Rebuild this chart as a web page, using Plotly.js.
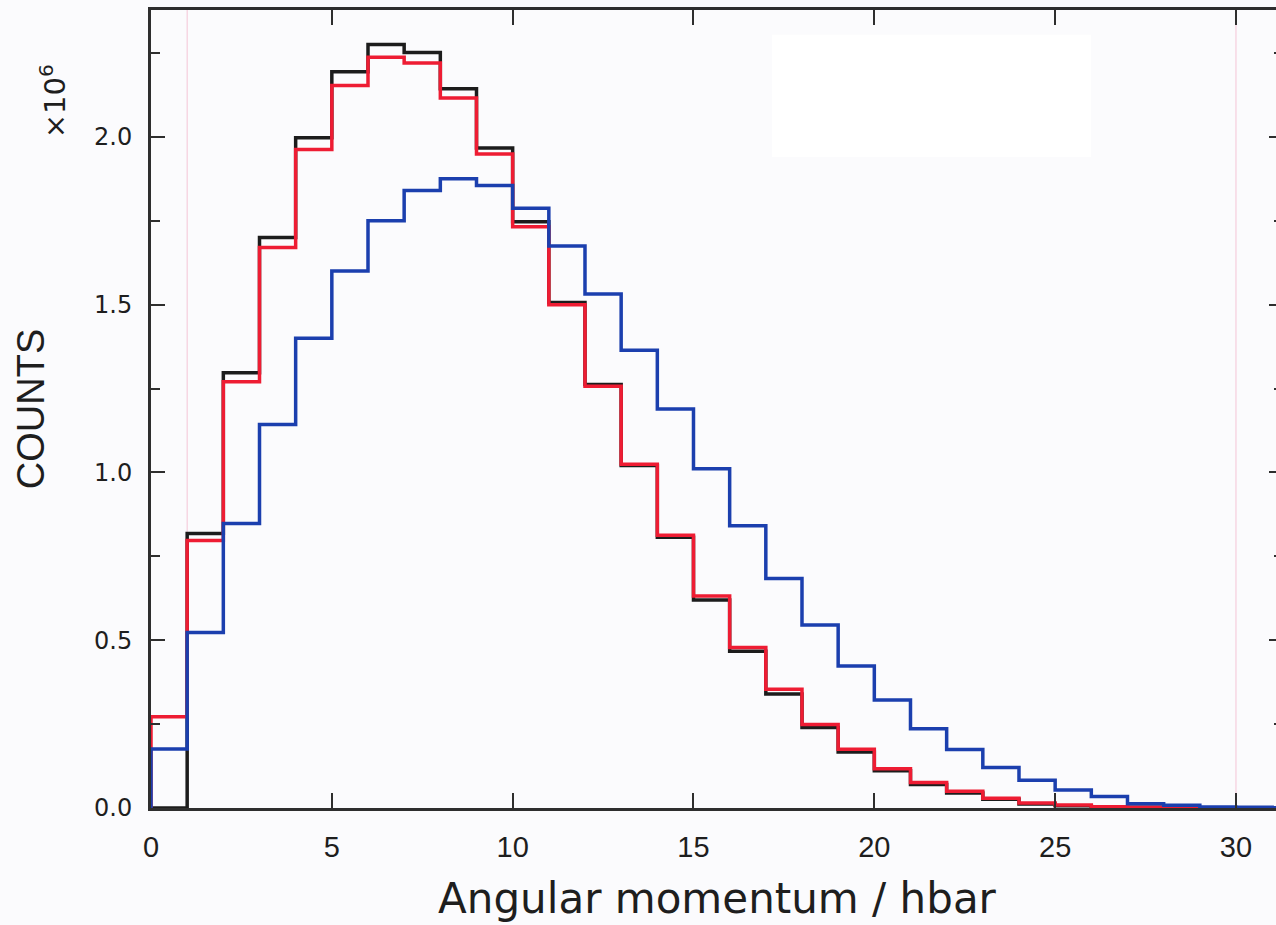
<!DOCTYPE html>
<html>
<head>
<meta charset="utf-8">
<script src="https://cdn.plot.ly/plotly-3.0.1.min.js"></script>
<style>
  html, body { margin: 0; padding: 0; overflow: hidden; background: #fbfbfd; }
  #chart { width: 1290px; height: 925px; }
</style>
</head>
<body>
<div id="chart"></div>
<script>
// Angular momentum bins (left edges, hbar), width 1
const binEdges = [0,1,2,3,4,5,6,7,8,9,10,11,12,13,14,15,16,17,18,19,20,21,22,23,24,25,26,27,28,29,30,31,32];

// Counts (x10^6) per bin
const blackCounts = [0.000,0.818,1.297,1.700,1.997,2.194,2.275,2.251,2.143,1.967,1.747,1.506,1.262,1.021,0.807,0.620,0.467,0.340,0.240,0.167,0.111,0.070,0.045,0.026,0.012,0.007,0.003,0.002,0.001,0.0005,0.0003,0.0002];
const redCounts   = [0.272,0.797,1.270,1.670,1.962,2.153,2.237,2.220,2.116,1.949,1.732,1.500,1.257,1.024,0.813,0.632,0.478,0.354,0.249,0.175,0.117,0.076,0.050,0.029,0.015,0.009,0.004,0.002,0.001,0.0005,0.0003,0.0002];
const blueCounts  = [0.176,0.523,0.848,1.143,1.400,1.600,1.750,1.840,1.875,1.855,1.787,1.675,1.532,1.364,1.189,1.011,0.841,0.684,0.545,0.423,0.322,0.236,0.174,0.121,0.083,0.054,0.034,0.013,0.008,0.003,0.002,0.001];

// Reference marker lines (hbar)
const markerLines = [1, 30];

const yTickVals = [0, 0.5, 1.0, 1.5, 2.0];
const xTickVals = [0, 5, 10, 15, 20, 25, 30];

function stepTrace(counts, color) {
  const xs = [binEdges[0]];
  const ys = [0];
  for (let i = 0; i < counts.length; i++) {
    xs.push(binEdges[i]);
    ys.push(counts[i]);
  }
  xs.push(binEdges[counts.length]);
  ys.push(counts[counts.length - 1]);
  return {
    x: xs, y: ys, type: 'scatter', mode: 'lines',
    line: { shape: 'hv', color: color, width: 3.5 },
    hoverinfo: 'skip', showlegend: false
  };
}

const data = [
  stepTrace(blackCounts, '#1c1c1c'),
  stepTrace(redCounts, '#ee1c33'),
  stepTrace(blueCounts, '#1b3fae')
];

const shapes = markerLines.map(v => ({
  type: 'line', xref: 'x', yref: 'paper', x0: v, x1: v, y0: 0, y1: 1,
  line: { color: '#f4c4d6', width: 1 }, layer: 'below'
}));
shapes.push({
  type: 'rect', xref: 'x', yref: 'y', x0: 17.17, x1: 25.99, y0: 1.94, y1: 2.304,
  fillcolor: '#ffffff', line: { width: 0 }, layer: 'below'
});

const axisColor = '#2e2e2e';

const layout = {
  width: 1290, height: 925,
  margin: { l: 151, r: 7, t: 10, b: 117 },
  paper_bgcolor: '#fbfbfd',
  plot_bgcolor: '#fbfbfd',
  showlegend: false,
  shapes: shapes,
  xaxis: {
    range: [0, 31.3],
    tickmode: 'array', tickvals: xTickVals, ticktext: xTickVals.map(String),
    ticks: 'inside', ticklen: 15, tickwidth: 2, tickcolor: axisColor,
    showline: true, linecolor: axisColor, linewidth: 3, mirror: 'ticks',
    showgrid: false, zeroline: false,
    tickfont: { family: 'Liberation Sans Narrow, Liberation Sans, sans-serif', size: 29, color: '#1e1e1e' },
    ticklabelstandoff: 11,
    title: { text: 'Angular momentum / hbar', standoff: 22,
      font: { family: 'DejaVu Sans, sans-serif', size: 42, color: '#1e1e1e' } }
  },
  yaxis: {
    range: [0, 2.378],
    tickmode: 'array', tickvals: yTickVals, ticktext: yTickVals.map(v => v.toFixed(1)),
    ticks: 'inside', ticklen: 14, tickwidth: 2, tickcolor: axisColor,
    minor: { dtick: 0.25, tick0: 0, ticks: 'inside', ticklen: 9, tickwidth: 2, tickcolor: axisColor },
    showline: true, linecolor: axisColor, linewidth: 3, mirror: 'ticks',
    showgrid: false, zeroline: false,
    tickfont: { family: 'DejaVu Sans, sans-serif', size: 24, color: '#1e1e1e' },
    ticklabelstandoff: 11,
    title: { text: 'COUNTS', standoff: 38,
      font: { family: 'Liberation Sans Narrow, Liberation Sans, sans-serif', size: 38, color: '#1e1e1e' } }
  },
  annotations: [{
    text: '×10<sup>6</sup>', xref: 'paper', yref: 'paper',
    x: -0.087, y: 0.885, xanchor: 'center', yanchor: 'middle',
    textangle: -90, showarrow: false,
    font: { family: 'DejaVu Sans, sans-serif', size: 29, color: '#1e1e1e' }
  }]
};

Plotly.newPlot('chart', data, layout, { staticPlot: true, displayModeBar: false });
</script>
</body>
</html>
